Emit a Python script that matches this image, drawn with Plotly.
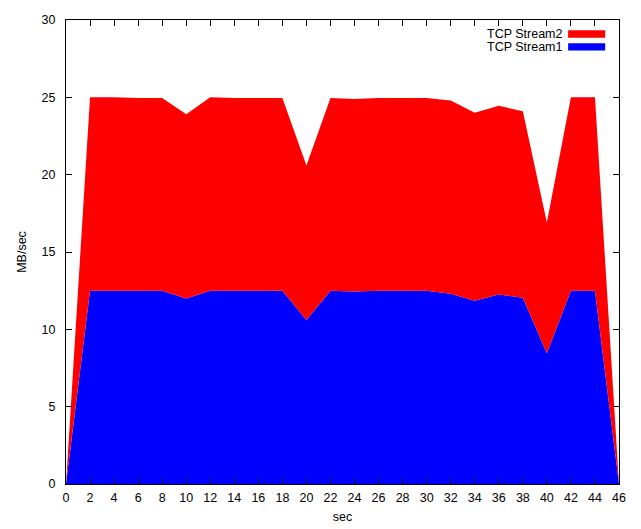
import plotly.graph_objects as go

sec = [0, 2, 4, 6, 8, 10, 12, 14, 16, 18, 20, 22, 24, 26, 28, 30, 32, 34, 36, 38, 40, 42, 44, 46]
stream1 = [0.0, 12.5, 12.5, 12.5, 12.5, 12.0, 12.5, 12.5, 12.5, 12.5, 10.6, 12.5, 12.45, 12.5, 12.5, 12.5,
           12.3, 11.85, 12.25, 12.05, 8.45, 12.5, 12.5, 0.0]
total = [0.0, 25.0, 25.0, 24.95, 24.95, 23.9, 25.0, 24.95, 24.95, 24.95, 20.6, 24.95, 24.9, 24.95, 24.95, 24.95,
         24.8, 24.0, 24.45, 24.1, 16.9, 25.0, 25.0, 0.0]
stream2 = [round(t - s, 2) for t, s in zip(total, stream1)]
names = ["TCP Stream1", "TCP Stream2"]
colors = ["#0000ff", "#ff0000"]
x_ticks = list(range(0, 47, 2))
y_ticks = [0, 5, 10, 15, 20, 25, 30]

FONT = "Liberation Sans, Arial, Helvetica, sans-serif"

fig = go.Figure()
for name, vals, col in zip(names, [stream1, stream2], colors):
    fig.add_trace(go.Scatter(
        x=sec, y=vals, name=name, mode="lines", stackgroup="s",
        line=dict(width=0, color=col), fillcolor=col, showlegend=False,
        hoverinfo="x+y+name"))

axis_common = dict(showgrid=False, zeroline=False, showline=True, linecolor="black", linewidth=1,
                   ticks="inside", ticklen=6, tickcolor="black", mirror="allticks", automargin=False,
                   tickfont=dict(family=FONT, size=12.5, color="black"))

fig.update_xaxes(range=[0, 46], tickvals=x_ticks,
                 title=dict(text="sec", font=dict(family=FONT, size=12.5), standoff=8),
                 ticklabelstandoff=2, **axis_common)
fig.update_yaxes(range=[0, 30], tickvals=y_ticks,
                 title=dict(text="MB/sec", font=dict(family=FONT, size=12.5), standoff=12),
                 ticklabelstandoff=7, **axis_common)

# gnuplot-style legend: label then sample swatch, top right inside
legend_items = [("TCP Stream2", "#ff0000", 0.970), ("TCP Stream1", "#0000ff", 0.942)]
for label, col, yp in legend_items:
    fig.add_annotation(xref="paper", yref="paper", x=0.902, y=yp, text=label, showarrow=False,
                       xanchor="right", yanchor="middle", font=dict(family=FONT, size=12.5, color="black"))
    fig.add_shape(type="rect", xref="paper", yref="paper", x0=0.908, x1=0.975, y0=yp - 0.008, y1=yp + 0.008,
                  fillcolor=col, line=dict(width=0))

# page has an 8px body margin, so the figure is sized/offset to land the plot where the reference has it
fig.update_layout(width=633, height=521, margin=dict(l=58, r=22, t=12, b=45),
                  plot_bgcolor="white", paper_bgcolor="white",
                  font=dict(family=FONT, size=12.5, color="black"))

fig.write_html("out.html")
